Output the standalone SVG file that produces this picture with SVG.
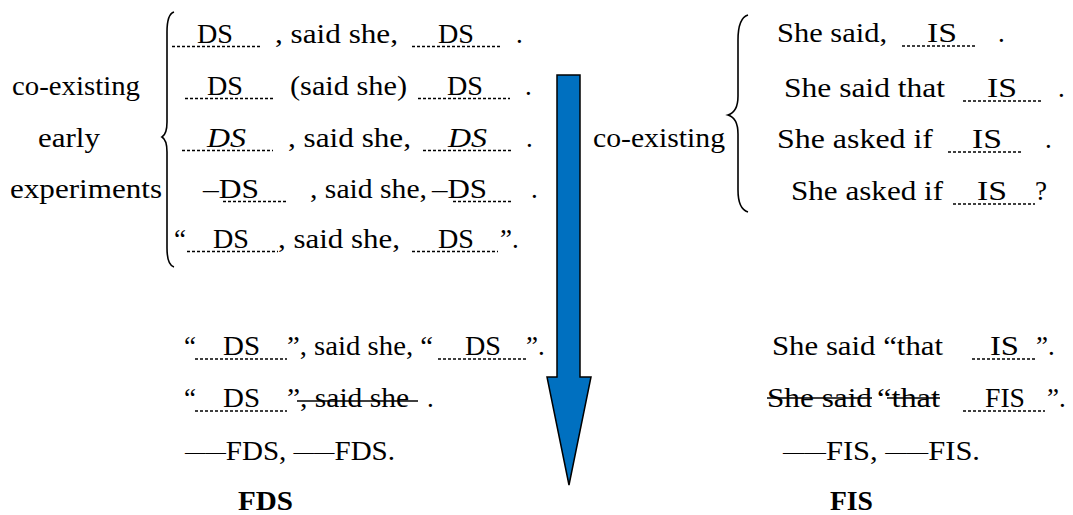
<svg xmlns="http://www.w3.org/2000/svg" width="1073" height="515" viewBox="0 0 1073 515">
<style>
text{font-family:"Liberation Serif","Times New Roman",serif;font-size:27px;fill:#000}
.it{font-style:italic}
.b{font-weight:bold}
.dash{font-size:19px}
.dot{stroke:#000;stroke-width:1.4;stroke-dasharray:3 2;fill:none}
.strike{stroke:#000;stroke-width:1.6;fill:none}
.brace{stroke:#000;stroke-width:1.6;fill:none}
</style>
<rect width="1073" height="515" fill="#fff"/>

<g id="left-labels">
<text x="12" y="95" textLength="128" lengthAdjust="spacingAndGlyphs">co-existing</text>
<text x="38" y="147" textLength="62" lengthAdjust="spacingAndGlyphs">early</text>
<text x="10" y="198" textLength="152" lengthAdjust="spacingAndGlyphs">experiments</text>
</g>
<g id="left-brace">
<path class="brace" d="M174,12 Q167,14 167,32 L167,122 Q167,134 162,137 Q167,140 167,152 L167,248 Q167,265 174,267"/>
</g>

<g id="left-row1">
<line class="dot" x1="172" y1="46.5" x2="260" y2="46.5"/>
<text x="197" y="43" textLength="36" lengthAdjust="spacingAndGlyphs">DS</text>
<text x="275" y="43" textLength="123" lengthAdjust="spacingAndGlyphs">, said she,</text>
<line class="dot" x1="412" y1="46.5" x2="502" y2="46.5"/>
<text x="438" y="43" textLength="36" lengthAdjust="spacingAndGlyphs">DS</text>
<text x="516" y="43">.</text>
</g>
<g id="left-row2">
<line class="dot" x1="185" y1="98.5" x2="273" y2="98.5"/>
<text x="207" y="95" textLength="36" lengthAdjust="spacingAndGlyphs">DS</text>
<text x="290" y="95" textLength="117" lengthAdjust="spacingAndGlyphs">(said she)</text>
<line class="dot" x1="418" y1="98.5" x2="510" y2="98.5"/>
<text x="447" y="95" textLength="36" lengthAdjust="spacingAndGlyphs">DS</text>
<text x="525" y="95">.</text>
</g>
<g id="left-row3">
<line class="dot" x1="182" y1="150.5" x2="273" y2="150.5"/>
<text class="it" x="207" y="147" textLength="39" lengthAdjust="spacingAndGlyphs">DS</text>
<text x="288" y="147" textLength="123" lengthAdjust="spacingAndGlyphs">, said she,</text>
<line class="dot" x1="423" y1="150.5" x2="513" y2="150.5"/>
<text class="it" x="448" y="147" textLength="39" lengthAdjust="spacingAndGlyphs">DS</text>
<text x="526" y="147">.</text>
</g>
<g id="left-row4">
<text x="203" y="198" textLength="56" lengthAdjust="spacingAndGlyphs">–DS</text>
<line class="dot" x1="223" y1="201.5" x2="287" y2="201.5"/>
<text x="310" y="198" textLength="117" lengthAdjust="spacingAndGlyphs">, said she,</text>
<text x="432" y="198" textLength="55" lengthAdjust="spacingAndGlyphs">–DS</text>
<line class="dot" x1="453" y1="201.5" x2="513" y2="201.5"/>
<text x="531" y="198">.</text>
</g>
<g id="left-row5">
<text x="174" y="248">“</text>
<line class="dot" x1="187" y1="251.5" x2="278" y2="251.5"/>
<text x="213" y="248" textLength="36" lengthAdjust="spacingAndGlyphs">DS</text>
<text x="278" y="248" textLength="122" lengthAdjust="spacingAndGlyphs">, said she,</text>
<line class="dot" x1="412" y1="251.5" x2="498" y2="251.5"/>
<text x="438" y="248" textLength="36" lengthAdjust="spacingAndGlyphs">DS</text>
<text x="500" y="248">”.</text>
</g>

<g id="right-label">
<text x="593" y="147" textLength="132" lengthAdjust="spacingAndGlyphs">co-existing</text>
</g>
<g id="right-brace">
<path class="brace" d="M748,15 Q738,18 738,40 L738,96 Q738,112 728,115 Q738,118 738,134 L738,190 Q738,209 748,212"/>
</g>
<g id="right-row1">
<text x="777" y="42" textLength="110" lengthAdjust="spacingAndGlyphs">She said,</text>
<line class="dot" x1="902" y1="46" x2="977" y2="46"/>
<text x="927" y="42" textLength="30" lengthAdjust="spacingAndGlyphs">IS</text>
<text x="998" y="42">.</text>
</g>
<g id="right-row2">
<text x="784" y="97" textLength="161" lengthAdjust="spacingAndGlyphs">She said that</text>
<line class="dot" x1="963" y1="101" x2="1042" y2="101"/>
<text x="987" y="97" textLength="30" lengthAdjust="spacingAndGlyphs">IS</text>
<text x="1058" y="97">.</text>
</g>
<g id="right-row3">
<text x="777" y="148" textLength="156" lengthAdjust="spacingAndGlyphs">She asked if</text>
<line class="dot" x1="948" y1="152" x2="1023" y2="152"/>
<text x="972" y="148" textLength="30" lengthAdjust="spacingAndGlyphs">IS</text>
<text x="1045" y="148">.</text>
</g>
<g id="right-row4">
<text x="791" y="200" textLength="152" lengthAdjust="spacingAndGlyphs">She asked if</text>
<line class="dot" x1="953" y1="204" x2="1035" y2="204"/>
<text x="977" y="200" textLength="30" lengthAdjust="spacingAndGlyphs">IS</text>
<text x="1035" y="200">?</text>
</g>

<g id="fds-row1">
<text x="184" y="355">“</text>
<line class="dot" x1="195" y1="359" x2="287" y2="359"/>
<text x="223" y="355" textLength="37" lengthAdjust="spacingAndGlyphs">DS</text>
<text x="287" y="355" textLength="146" lengthAdjust="spacingAndGlyphs">”, said she, “</text>
<line class="dot" x1="438" y1="359" x2="528" y2="359"/>
<text x="465" y="355" textLength="36" lengthAdjust="spacingAndGlyphs">DS</text>
<text x="526" y="355">”.</text>
</g>
<g id="fds-row2">
<text x="184" y="407">“</text>
<line class="dot" x1="195" y1="411" x2="287" y2="411"/>
<text x="223" y="407" textLength="37" lengthAdjust="spacingAndGlyphs">DS</text>
<text x="287" y="407" textLength="122" lengthAdjust="spacingAndGlyphs">”, said she</text>
<line class="strike" x1="297" y1="401" x2="418" y2="401"/>
<text x="427" y="407">.</text>
</g>
<g id="fds-row3">
<text x="185" y="460" textLength="210" lengthAdjust="spacingAndGlyphs"><tspan class="dash" dy="-2">——</tspan><tspan dy="2">FDS, </tspan><tspan class="dash" dy="-2">——</tspan><tspan dy="2">FDS.</tspan></text>
</g>
<g id="fds-label">
<text class="b" x="238" y="510" textLength="55" lengthAdjust="spacingAndGlyphs">FDS</text>
</g>

<g id="fis-row1">
<text x="772" y="355" textLength="171" lengthAdjust="spacingAndGlyphs">She said “that</text>
<line class="dot" x1="972" y1="359" x2="1035" y2="359"/>
<text x="990" y="355" textLength="29" lengthAdjust="spacingAndGlyphs">IS</text>
<text x="1036" y="355">”.</text>
</g>
<g id="fis-row2">
<text x="767" y="407" textLength="105" lengthAdjust="spacingAndGlyphs">She said</text>
<line class="strike" x1="767" y1="398" x2="872" y2="398"/>
<text x="877" y="407" textLength="63" lengthAdjust="spacingAndGlyphs">“that</text>
<line class="strike" x1="887" y1="398" x2="940" y2="398"/>
<line class="dot" x1="963" y1="411" x2="1045" y2="411"/>
<text x="985" y="407" textLength="40" lengthAdjust="spacingAndGlyphs">FIS</text>
<text x="1047" y="407">”.</text>
</g>
<g id="fis-row3">
<text x="783" y="460" textLength="197" lengthAdjust="spacingAndGlyphs"><tspan class="dash" dy="-2">——</tspan><tspan dy="2">FIS, </tspan><tspan class="dash" dy="-2">——</tspan><tspan dy="2">FIS.</tspan></text>
</g>
<g id="fis-label">
<text class="b" x="830" y="510" textLength="43" lengthAdjust="spacingAndGlyphs">FIS</text>
</g>

<g id="connectors">
<path d="M557,75 L580,75 L580,377 L591,377 L569,485 L547,377 L557,377 Z" fill="#0070C0" stroke="#000" stroke-width="1.5" stroke-linejoin="miter"/>
</g>
</svg>
